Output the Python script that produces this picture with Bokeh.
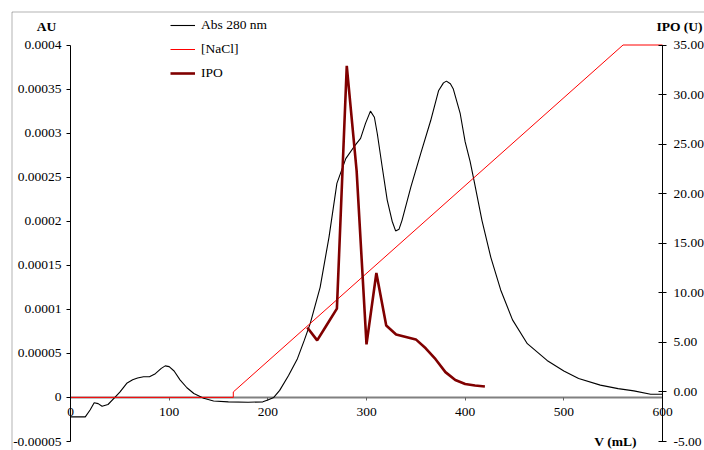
from bokeh.plotting import figure
from bokeh.models import (Range1d, LinearAxis, FixedTicker, PrintfTickFormatter,
                          CustomJSTickFormatter, Label, Legend, LegendItem, BoxAnnotation)
from bokeh.embed import file_html
from bokeh.resources import INLINE

# ---- data ----
abs_v = [0, 10, 15, 20, 24, 28, 32, 38, 45, 50, 57, 63, 68, 74, 80, 86, 92, 96, 100, 105,
         111, 118, 125, 135, 145, 160, 180, 195, 200, 206, 212, 221, 230, 237, 243, 253, 262,
         270, 279, 287, 294, 299, 304, 308, 311, 316, 321, 326, 329.5, 333, 336, 345, 355,
         365, 373, 378, 381, 385, 388, 395, 400, 405, 409, 417, 426, 436, 448, 463, 483,
         500, 515, 537, 555, 571, 588, 600]
abs_280 = [-0.000022, -0.000022, -0.000022, -0.000014, -0.000006, -0.000007, -0.00001,
           -0.000008, 0.0, 0.000006, 0.000016, 0.00002, 0.000022, 0.0000235, 0.0000235,
           0.000027, 0.000033, 0.0000358, 0.000035, 0.00003, 0.00002, 0.000011, 0.0000045,
           -0.000001, -0.000004, -0.000005, -0.0000055, -0.000005, -0.000003, 0.0, 0.000008,
           0.000025, 0.000044, 0.000065, 0.000084, 0.000125, 0.000182, 0.000243, 0.000271,
           0.000284, 0.000294, 0.000311, 0.000325, 0.000318, 0.000299, 0.000261, 0.000224,
           0.0002, 0.000189, 0.000191, 0.000201, 0.000239, 0.000277, 0.000314, 0.000348,
           0.000357, 0.000359, 0.000356, 0.00035, 0.000322, 0.00029, 0.000268, 0.000246,
           0.000201, 0.000159, 0.000122, 0.000088, 0.000061, 0.000042, 0.00003, 0.0000215,
           0.000014, 0.00001, 0.0000075, 0.0000037, 0.0000037]

nacl_v = [0, 165, 165, 560, 600]
nacl = [-0.55, -0.55, 0, 35, 35]

ipo_v = [240, 250, 260, 270, 280, 290, 300, 310, 320, 330, 340, 350, 360, 370, 380, 390,
         400, 410, 420]
ipo = [6.5, 5.2, 6.8, 8.4, 32.9, 22.3, 4.8, 12.0, 6.7, 5.8, 5.55, 5.3, 4.4, 3.3, 2.0, 1.2,
       0.8, 0.65, 0.55]

x_ticks = [0, 100, 200, 300, 400, 500, 600]
au_ticks = [-0.00005, 0, 0.00005, 0.0001, 0.00015, 0.0002, 0.00025, 0.0003, 0.00035, 0.0004]
ipo_ticks = [-5, 0, 5, 10, 15, 20, 25, 30, 35]

FONT = "Liberation Serif"
FS = "13.5px"

# frame covers the whole canvas; axes are pinned at data locations
W, H = 704, 450
X0, X1 = 70.0, 662.0          # pixel of v=0 and v=600
YT, YB = 44.5, 441.0          # pixel of top / bottom of the axes
kx = (X1 - X0) / 600.0
ky_au = (YB - YT) / 0.00045
ky_ipo = (YB - YT) / 40.0

p = figure(width=W, height=H, output_backend="svg", toolbar_location=None,
           x_range=Range1d(-X0 / kx, (W - X0) / kx),
           y_range=Range1d(-0.00005 - (H - YB) / ky_au, 0.0004 + YT / ky_au),
           min_border=0)
p.extra_y_ranges = {"ipo": Range1d(-5 - (H - YB) / ky_ipo, 35 + YT / ky_ipo)}
p.grid.visible = False
p.outline_line_color = None
p.background_fill_color = "white"
p.border_fill_color = "white"

# x axis at y = 0
xa = p.xaxis[0]
xa.fixed_location = 0
xa.bounds = (0, 600)
xa.ticker = FixedTicker(ticks=x_ticks)
xa.axis_line_color = "#808080"
xa.axis_line_width = 2
xa.major_tick_line_color = "#606060"
xa.major_tick_in = 0
xa.major_tick_out = 3
xa.minor_tick_line_color = None
xa.major_label_standoff = 8
xa.major_label_text_font = FONT
xa.major_label_text_font_size = FS
xa.major_label_text_color = "black"
xa.level = "underlay"

ya = p.yaxis[0]
ya.fixed_location = 0
ya.bounds = (-0.00005, 0.0004)
ya.ticker = FixedTicker(ticks=au_ticks)
ya.formatter = CustomJSTickFormatter(code="return (Math.round(tick*1e7)/1e7).toString();")
ya.axis_line_color = "black"
ya.major_tick_in = 0
ya.major_tick_out = 4
ya.minor_tick_line_color = None
ya.major_label_standoff = 5
ya.major_label_text_font = FONT
ya.major_label_text_font_size = FS
ya.major_label_text_color = "black"

ra = LinearAxis(y_range_name="ipo", ticker=FixedTicker(ticks=ipo_ticks),
                formatter=PrintfTickFormatter(format="%.2f"))
ra.fixed_location = 600
ra.bounds = (-5, 35)
ra.axis_line_color = "black"
ra.major_tick_in = 4
ra.major_tick_out = 4
ra.minor_tick_line_color = None
ra.major_label_standoff = 7
ra.major_label_text_font = FONT
ra.major_label_text_font_size = FS
ra.major_label_text_color = "black"
p.add_layout(ra, "right")

r_abs = p.line(abs_v, abs_280, line_color="black", line_width=1.1)
r_nacl = p.line(nacl_v, nacl, line_color="#ff0000", line_width=1, y_range_name="ipo")
r_ipo = p.line(ipo_v, ipo, line_color="#800000", line_width=2.6, y_range_name="ipo")

legend = Legend(items=[LegendItem(label="Abs 280 nm", renderers=[r_abs]),
                       LegendItem(label="[NaCl]", renderers=[r_nacl]),
                       LegendItem(label="IPO", renderers=[r_ipo])],
                location=(170, 367), padding=0, margin=0, spacing=4,
                glyph_width=25, glyph_height=20, label_height=20, label_standoff=6,
                label_text_font=FONT, label_text_font_size=FS, label_text_color="black",
                background_fill_alpha=0, border_line_color=None)
p.add_layout(legend, "center")

def px_x(px):
    return (px - X0) / kx

def px_y(py):
    return 0.0004 - (py - YT) / ky_au

for txt, x, y in [("AU", 46, 26), ("IPO (U)", 679, 26), ("V (mL)", 615, 441)]:
    p.add_layout(Label(x=px_x(x), y=px_y(y), text=txt, text_font=FONT, text_font_size=FS,
                       text_font_style="bold", text_align="center",
                       text_baseline="middle", text_color="black"))

# outer chart-area border (extends past the right and bottom edges)
p.add_layout(BoxAnnotation(left=px_x(11.5), right=px_x(W + 20), top=px_y(11.5),
                           bottom=px_y(H + 20), fill_alpha=0, line_color="black",
                           line_width=1, level="overlay"))

open("out.html", "w").write(file_html(p, INLINE))
